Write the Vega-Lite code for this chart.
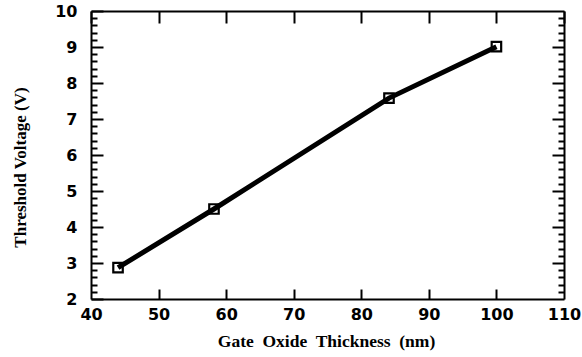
{
  "$schema": "https://vega.github.io/schema/vega-lite/v6.json",
  "width": 473,
  "height": 288,
  "autosize": {"type": "none"},
  "padding": {"left": 91, "top": 11, "right": 18, "bottom": 58},
  "background": "white",
  "config": {"view": {"stroke": null}},
  "data": {"values": [
    {"thickness": 44, "vt": 2.87},
    {"thickness": 58.2, "vt": 4.5},
    {"thickness": 84.1, "vt": 7.58},
    {"thickness": 100, "vt": 9.01}
  ]},
  "layer": [
    {
      "mark": {"type": "point", "shape": "square", "size": 90, "filled": false, "stroke": "black", "strokeWidth": 2.2, "fill": "white", "opacity": 1},
      "encoding": {
        "x": {"field": "thickness", "type": "quantitative",
          "scale": {"domain": [40, 110], "nice": false, "zero": false},
          "axis": {"orient": "top", "values": [50, 60, 70, 80, 90, 100], "labels": false, "title": null, "ticks": false,
            "grid": true, "gridDash": [10, 1000], "gridWidth": 2, "gridColor": "black", "gridOpacity": 1,
            "domainColor": "black", "domainWidth": 2}},
        "y": {"field": "vt", "type": "quantitative",
          "scale": {"domain": [2, 10], "nice": false, "zero": false},
          "axis": {"orient": "right", "values": [2.2,2.4,2.6,2.8,3,3.2,3.4,3.6,3.8,4,4.2,4.4,4.6,4.8,5,5.2,5.4,5.6,5.8,6,6.2,6.4,6.6,6.8,7,7.2,7.4,7.6,7.8,8,8.2,8.4,8.6,8.8,9,9.2,9.4,9.6,9.8],
            "labels": false, "title": null, "ticks": false,
            "grid": true, "gridWidth": 2, "gridColor": "black", "gridOpacity": 1,
            "gridDash": {"condition": {"test": "abs(datum.value - round(datum.value)) < 0.01", "value": [12, 1000]}, "value": [6, 1000]},
            "domainColor": "black", "domainWidth": 2}}
      }
    },
    {
      "mark": {"type": "line", "color": "black", "strokeWidth": 5},
      "encoding": {
        "x": {"field": "thickness", "type": "quantitative",
          "axis": {"orient": "bottom", "values": [40, 50, 60, 70, 80, 90, 100, 110], "ticks": false,
            "grid": true, "gridDash": [12, 1000], "gridWidth": 2, "gridColor": "black", "gridOpacity": 1,
            "title": "Gate\u00a0 Oxide\u00a0 Thickness\u00a0 (nm)",
            "titleFont": "Liberation Serif", "titleFontSize": 17.5, "titleFontWeight": "bold", "titleColor": "black",
            "titleX": 235, "titleY": 47, "titleAlign": "center", "titleBaseline": "alphabetic",
            "labelFont": "DejaVu Sans", "labelFontSize": 16, "labelFontWeight": "bold", "labelColor": "black",
            "labelPadding": 7, "labelFlush": false, "labelOverlap": false,
            "domainColor": "black", "domainWidth": 2}},
        "y": {"field": "vt", "type": "quantitative",
          "axis": {"orient": "left", "values": [2,2.2,2.4,2.6,2.8,3,3.2,3.4,3.6,3.8,4,4.2,4.4,4.6,4.8,5,5.2,5.4,5.6,5.8,6,6.2,6.4,6.6,6.8,7,7.2,7.4,7.6,7.8,8,8.2,8.4,8.6,8.8,9,9.2,9.4,9.6,9.8,10],
            "labelExpr": "abs(datum.value - round(datum.value)) < 0.01 ? format(datum.value, 'd') : ''",
            "ticks": false,
            "grid": true, "gridWidth": 2, "gridColor": "black", "gridOpacity": 1,
            "gridDash": {"condition": {"test": "abs(datum.value - round(datum.value)) < 0.01", "value": [12, 1000]}, "value": [6, 1000]},
            "labelOverlap": false, "labelFlush": false,
            "title": "Threshold Voltage (V)",
            "titleFont": "Liberation Serif", "titleFontSize": 17, "titleFontWeight": "bold", "titleColor": "black",
            "titleX": -71, "titleY": 156, "titleAngle": 270, "titleAlign": "center", "titleBaseline": "middle",
            "labelFont": "DejaVu Sans", "labelFontSize": 16, "labelFontWeight": "bold", "labelColor": "black",
            "labelPadding": 14, "labelBaseline": "middle",
            "domainColor": "black", "domainWidth": 2}}
      }
    }
  ]
}
